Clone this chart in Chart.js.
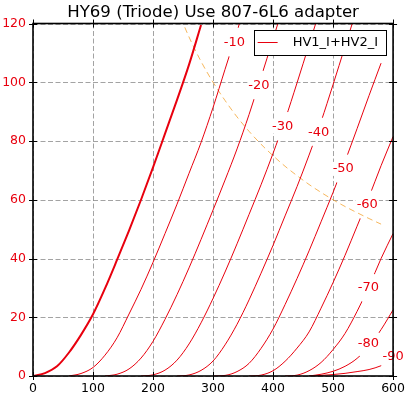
<!DOCTYPE html>
<html>
<head>
<meta charset="utf-8">
<script src="https://cdn.jsdelivr.net/npm/chart.js@4.4.1/dist/chart.umd.min.js"></script>
<style>
  html, body { margin: 0; padding: 0; background: #fff; }
  #wrap { width: 410px; height: 395px; }
</style>
</head>
<body>
<div id="wrap"><canvas id="chart" width="410" height="395"></canvas></div>
<script>
"use strict";

var TITLE = 'HY69 (Triode) Use 807-6L6 adapter';
var LEGEND_LABEL = 'HV1_I+HV2_I';
var RED = '#e8000e';
var FONT = "'DejaVu Sans', sans-serif";

// plate voltage (V), shared x values
var plateVolts = [0, 20, 40, 60, 80, 100, 120, 140, 160, 180, 200, 220, 240, 260, 280,
    300, 320, 340, 360, 380, 400, 420, 440, 460, 480, 500, 520, 540, 560, 580, 600];

// plate current (mA) for each grid voltage
var ia0 = [0, 1.0, 3.3, 8.0, 14.0, 21.0, 29.8, 39.5, 49.5, 60, 71, 82.5, 94, 106, 119.5,
    null, null, null, null, null, null, null, null, null, null, null, null, null, null, null, null];
var ia10 = [null, null, null, 0, 0.85, 2.9, 7.1, 13.0, 21.1, 29.5, 38.7, 48.5, 58.5, 69, 79.5,
    91.4, 104.4, 117.3, 131, null, null, null, null, null, null, null, null, null, null, null, null];
var ia20 = [null, null, null, null, null, null, 0, 0.6, 2.4, 6.1, 11.8, 19.3, 27.7, 36.8, 46.5,
    56.5, 66.7, 77.3, 89, 101.7, 114.7, 127.8, null, null, null, null, null, null, null, null, null];
var ia30 = [null, null, null, null, null, null, null, null, null, 0, 0.4, 2.0, 5.4, 10.9, 18.1,
    26.4, 35.4, 45, 55, 65.1, 75.8, 87.2, 99.8, 112.8, 125.8, null, null, null, null, null, null];
var ia40 = [null, null, null, null, null, null, null, null, null, null, null, null, 0, 0.35, 1.9,
    5.1, 10.6, 17.6, 25.9, 35, 44.5, 54.5, 64.5, 75.2, 86.6, 99.2, 112.2, 125.2, null, null, null];
var ia50 = [null, null, null, null, null, null, null, null, null, null, null, null, null, null, null,
    0, 0.2, 1.5, 4.3, 9.4, 16, 24.3, 33.2, 42.6, 52.5, 62.5, 73.1, 84.2, 95.5, 106.5, null];
var ia60 = [null, null, null, null, null, null, null, null, null, null, null, null, null, null, null,
    null, null, null, 0, 0.3, 1.8, 5.0, 9.5, 15, 23.1, 31.8, 41.1, 51, 61, 71.6, 81.5];
var ia70 = [null, null, null, null, null, null, null, null, null, null, null, null, null, null, null,
    null, null, null, null, null, null, 0, 0.3, 1.8, 4.6, 9.0, 14.5, 22, 30.5, 40, 48.5];
var ia80 = [null, null, null, null, null, null, null, null, null, null, null, null, null, null, null,
    null, null, null, null, null, null, null, null, 0, 0.6, 1.6, 3.3, 6.0, 10.2, 15.8, 22.5];
var ia90 = [null, null, null, null, null, null, null, null, null, null, null, null, null, null, null,
    null, null, null, null, null, null, null, null, 0, 0.2, 0.5, 0.9, 1.5, 2.2, 3.5, 5.5];

// 30 W plate dissipation limit (mA)
var maxDiss = [null, null, null, null, null, null, null, null, null, null, null, null, 125, 115.4, 107.1,
    100, 93.8, 88.2, 83.3, 78.9, 75, 71.4, 68.2, 65.2, 62.5, 60, 57.7, 55.6, 53.6, 51.7, null];

// curve labels (grid volts) and where they sit (plate V, mA)
var gridVolts = [-10, -20, -30, -40, -50, -60, -70, -80, -90];
var labelVolts = [335.5, 376.5, 416, 476, 517, 557, 559, 559, 600];
var labelAmps = [113.6, 99, 85, 83, 70.5, 58.2, 30, 11, 6.7];

var xTicks = [0, 100, 200, 300, 400, 500, 600];
var yTicks = [0, 20, 40, 60, 80, 100, 120];

function toPoints(arr) {
    return plateVolts.map(function(v, i) {
        return { x: v, y: arr[i] };
    });
}

function curve(arr, width, label) {
    return {
        label: label || '',
        data: toPoints(arr),
        borderColor: RED,
        borderWidth: width,
        pointRadius: 0,
        cubicInterpolationMode: 'monotone',
        gapped: true
    };
}

var datasets = [
    curve(ia0, 2, LEGEND_LABEL),
    curve(ia10, 1),
    curve(ia20, 1),
    curve(ia30, 1),
    curve(ia40, 1),
    curve(ia50, 1),
    curve(ia60, 1),
    curve(ia70, 1),
    curve(ia80, 1),
    curve(ia90, 1),
    {
        label: '',
        data: toPoints(maxDiss),
        borderColor: '#f4a434',
        borderWidth: 0.8,
        borderDash: [6, 4],
        pointRadius: 0,
        cubicInterpolationMode: 'monotone'
    }
];

// dashed grid drawn from the scales
var gridPlugin = {
    id: 'mplGrid',
    beforeDatasetsDraw: function(chart) {
        var c = chart.ctx, a = chart.chartArea;
        var xs = chart.scales.x, ys = chart.scales.y;
        c.save();
        c.strokeStyle = '#8c8c8c';
        c.lineWidth = 0.8;
        c.setLineDash([5, 2.5]);
        xTicks.forEach(function(t) {
            var px = Math.round(xs.getPixelForValue(t)) + 0.5;
            c.beginPath(); c.moveTo(px, a.top); c.lineTo(px, a.bottom); c.stroke();
        });
        yTicks.forEach(function(t) {
            var py = Math.round(ys.getPixelForValue(t)) + 0.5;
            c.beginPath(); c.moveTo(a.left, py); c.lineTo(a.right, py); c.stroke();
        });
        c.restore();
    }
};

// gaps in the curves where the labels sit, labels, frame
var GAP_R = 15;
var gapPlugin = {
    id: 'labelGaps',
    beforeDatasetDraw: function(chart, args) {
        var ds = chart.data.datasets[args.index];
        if (!ds.gapped) return;
        var c = chart.ctx;
        var xs = chart.scales.x, ys = chart.scales.y;
        c.save();
        c.beginPath();
        c.rect(0, 0, chart.width, chart.height);
        labelVolts.forEach(function(v, i) {
            var px = xs.getPixelForValue(v), py = ys.getPixelForValue(labelAmps[i]);
            c.moveTo(px + GAP_R, py);
            c.arc(px, py, GAP_R, 0, Math.PI * 2);
        });
        c.clip('evenodd');
    },
    afterDatasetDraw: function(chart, args) {
        if (chart.data.datasets[args.index].gapped) chart.ctx.restore();
    },
    afterDatasetsDraw: function(chart) {
        var c = chart.ctx, a = chart.chartArea;
        var xs = chart.scales.x, ys = chart.scales.y;
        c.save();
        c.font = '13px ' + FONT;
        c.textAlign = 'center';
        c.textBaseline = 'middle';
        gridVolts.forEach(function(g, i) {
            var px = xs.getPixelForValue(labelVolts[i]), py = ys.getPixelForValue(labelAmps[i]);
            var txt = String(g);
            var w = c.measureText(txt).width;
            c.fillStyle = '#fff';
            c.fillRect(px - w / 2 - 1, py - 7, w + 2, 14);
            c.fillStyle = RED;
            c.fillText(txt, px, py);
        });

        c.strokeStyle = '#000';
        c.lineWidth = 1;
        xTicks.forEach(function(t) {
            var px = Math.round(xs.getPixelForValue(t)) + 0.5;
            c.beginPath(); c.moveTo(px, a.bottom - 4); c.lineTo(px, a.bottom + 4); c.stroke();
            c.beginPath(); c.moveTo(px, a.top - 4); c.lineTo(px, a.top + 4); c.stroke();
        });
        yTicks.forEach(function(t) {
            var py = Math.round(ys.getPixelForValue(t)) + 0.5;
            c.beginPath(); c.moveTo(a.left - 4, py); c.lineTo(a.left + 4, py); c.stroke();
            c.beginPath(); c.moveTo(a.right - 4, py); c.lineTo(a.right + 4, py); c.stroke();
        });
        c.lineWidth = 1.6;
        c.strokeRect(a.left, a.top, a.right - a.left, a.bottom - a.top);
        c.restore();
    }
};

// title centred over the axes, and a boxed legend in the upper right
var legendPlugin = {
    id: 'boxLegend',
    afterDraw: function(chart) {
        var c = chart.ctx, a = chart.chartArea;
        c.save();
        c.font = '16.6px ' + FONT;
        c.fillStyle = '#000';
        c.textAlign = 'center';
        c.textBaseline = 'alphabetic';
        c.fillText(TITLE, (a.left + a.right) / 2, 17);

        var text = chart.data.datasets[0].label;
        c.font = '13px ' + FONT;
        c.textAlign = 'left';
        var tw = c.measureText(text).width;
        var right = a.right - 7, top = a.top + 6.5;
        var w = 39 + tw + 8, h = 25;
        var left = right - w;
        c.fillStyle = '#fff';
        c.fillRect(left, top, w, h);
        c.strokeStyle = '#000';
        c.lineWidth = 1;
        c.strokeRect(Math.round(left) + 0.5, Math.round(top) + 0.5, Math.round(w), h);
        var cy = top + h / 2;
        c.strokeStyle = RED;
        c.beginPath(); c.moveTo(left + 4, cy); c.lineTo(left + 24, cy); c.stroke();
        c.fillStyle = '#000';
        c.textBaseline = 'middle';
        c.fillText(text, left + 39, cy);
        c.restore();
    }
};

var chart = new Chart(document.getElementById('chart'), {
    type: 'line',
    data: { datasets: datasets },
    options: {
        responsive: false,
        animation: false,
        events: [],
        layout: { padding: { left: 0, right: 15, top: 23.5, bottom: 0 } },
        plugins: {
            legend: { display: false },
            tooltip: { enabled: false },
            title: { display: false }
        },
        scales: {
            x: {
                type: 'linear',
                min: 0,
                max: 600,
                grid: { display: false, drawTicks: false },
                border: { display: false },
                ticks: {
                    stepSize: 100,
                    color: '#000',
                    padding: 5,
                    maxRotation: 0,
                    font: { family: FONT, size: 12.5 }
                },
                afterFit: function(s) { s.height = 19; }
            },
            y: {
                min: 0,
                max: 120,
                grid: { display: false, drawTicks: false },
                border: { display: false },
                ticks: {
                    stepSize: 20,
                    color: RED,
                    padding: 7,
                    font: { family: FONT, size: 12.5 }
                },
                afterFit: function(s) { s.width = 33; }
            }
        }
    },
    plugins: [gridPlugin, gapPlugin, legendPlugin]
});
</script>
</body>
</html>
